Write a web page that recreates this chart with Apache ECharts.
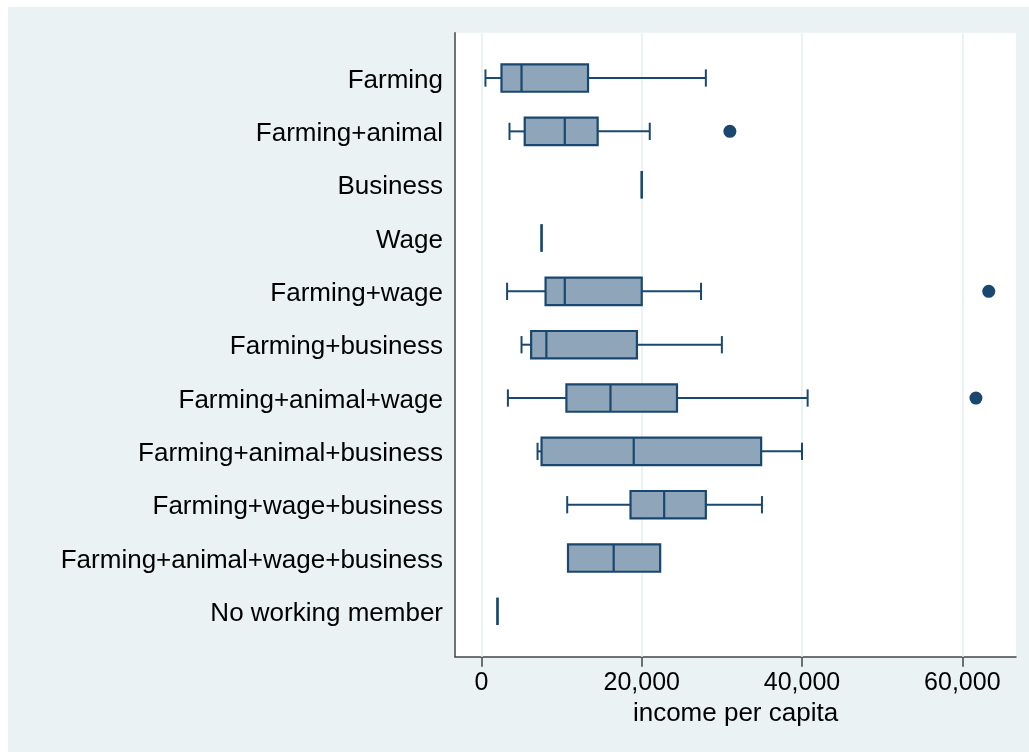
<!DOCTYPE html>
<html>
<head>
<meta charset="utf-8">
<script src="https://cdn.jsdelivr.net/npm/echarts@6/dist/echarts.min.js"></script>
<style>
html,body{margin:0;padding:0;background:#ffffff;}
#c{position:absolute;left:8px;top:7px;width:1021px;height:745px;}
</style>
</head>
<body>
<div id="c"></div>
<script>
const categories = ['Farming','Farming+animal','Business','Wage','Farming+wage','Farming+business','Farming+animal+wage','Farming+animal+business','Farming+wage+business','Farming+animal+wage+business','No working member'];
const lowWhisker  = [500, 3500, 20000, 7500, 3200, 5000, 3300, 7000, 10700, 10800, 2000];
const q1          = [2500, 5400, 20000, 7500, 8000, 6200, 10600, 7500, 18600, 10800, 2000];
const median      = [5000, 10400, 20000, 7500, 10400, 8100, 16100, 19000, 22800, 16500, 2000];
const q3          = [13300, 14500, 20000, 7500, 20000, 19400, 24400, 34900, 28000, 22300, 2000];
const highWhisker = [28000, 21000, 20000, 7500, 27400, 30000, 40700, 40000, 35000, 22300, 2000];
const outlierGroups = ['Farming+animal','Farming+wage','Farming+animal+wage'];
const outlierValues = [31000, 63300, 61700];
const xTickValues = [0, 20000, 40000, 60000];
const xTitle = 'income per capita';

const NAVY = '#1A476F';
const FILL = '#8FA5B9';
const BG = '#EAF2F3';
const FONT = "'Liberation Sans', Arial, Helvetica, sans-serif";

const boxData = categories.map((c, i) => [i, lowWhisker[i], q1[i], median[i], q3[i], highWhisker[i]]);
const outlierData = outlierGroups.map((g, i) => [outlierValues[i], categories.indexOf(g)]);

const chart = echarts.init(document.getElementById('c'));

function renderBox(params, api) {
  const y = api.value(0);
  const unit = api.size([0, 1])[1];
  const bh = unit * 0.257;
  const ch = unit * 0.162;
  const pl = api.coord([api.value(1), y]);
  const p1 = api.coord([api.value(2), y]);
  const pm = api.coord([api.value(3), y]);
  const p3 = api.coord([api.value(4), y]);
  const ph = api.coord([api.value(5), y]);
  const ls = {stroke: NAVY, lineWidth: 2, fill: null};
  const ch_ = [];
  if (api.value(1) < api.value(2)) {
    ch_.push({type:'line', shape:{x1:pl[0], y1:pl[1], x2:p1[0], y2:p1[1]}, style:ls});
    ch_.push({type:'line', shape:{x1:pl[0], y1:pl[1]-ch, x2:pl[0], y2:pl[1]+ch}, style:ls});
  }
  if (api.value(5) > api.value(4)) {
    ch_.push({type:'line', shape:{x1:p3[0], y1:p3[1], x2:ph[0], y2:ph[1]}, style:ls});
    ch_.push({type:'line', shape:{x1:ph[0], y1:ph[1]-ch, x2:ph[0], y2:ph[1]+ch}, style:ls});
  }
  ch_.push({type:'rect', shape:{x:p1[0], y:p1[1]-bh, width:p3[0]-p1[0], height:2*bh},
            style:{fill:FILL, stroke:NAVY, lineWidth:2.2}});
  ch_.push({type:'line', shape:{x1:pm[0], y1:pm[1]-bh, x2:pm[0], y2:pm[1]+bh}, style:{stroke:NAVY, lineWidth:2.2}});
  return {type:'group', children:ch_};
}

chart.setOption({
  backgroundColor: BG,
  animation: false,
  textStyle: {fontFamily: FONT},
  grid: {left: 447, right: 13, top: 25.7, bottom: 95.3, show: true, backgroundColor: '#ffffff', borderWidth: 0, containLabel: false, outerBoundsMode: 'none'},
  xAxis: {
    type: 'value', min: -3300, max: 66700,
    name: xTitle, nameLocation: 'middle', nameGap: 39,
    nameTextStyle: {color: '#000', fontSize: 26, fontFamily: FONT},
    axisLine: {show: true, onZero: false, lineStyle: {color: '#444', width: 1.5}},
    axisTick: {show: true, length: 10, customValues: xTickValues, lineStyle: {color: '#444', width: 1.5}},
    axisLabel: {show: true, customValues: xTickValues, margin: 14, color: '#000', fontSize: 25, fontFamily: FONT,
                formatter: v => Number(v).toLocaleString('en-US')},
    splitLine: {show: false}
  },
  yAxis: {
    type: 'value', inverse: true, min: -0.85, max: 10.85,
    axisLine: {show: true, onZero: false, lineStyle: {color: '#444', width: 1.5}},
    axisTick: {show: false},
    axisLabel: {show: true, customValues: categories.map((c, i) => i), margin: 12, color: '#000', fontSize: 26, fontFamily: FONT,
                formatter: v => '{c|' + categories[Math.round(v)] + '}',
                rich: {c: {fontSize: 26, fontFamily: FONT, color: '#000', padding: [5, 0, 0, 0]}}},
    splitLine: {show: false}
  },
  series: [
    {
      type: 'scatter', data: [], z: 1, silent: true,
      markLine: {silent: true, symbol: 'none', animation: false, z: 1,
        label: {show: false},
        lineStyle: {color: BG, width: 2, type: 'solid'},
        emphasis: {disabled: true},
        data: xTickValues.map(v => ({xAxis: v}))}
    },
    {
      type: 'custom', z: 2, silent: true,
      renderItem: renderBox,
      encode: {x: [1, 2, 3, 4, 5], y: 0},
      data: boxData
    },
    {
      type: 'scatter', z: 3, silent: true,
      symbol: 'circle', symbolSize: 13,
      itemStyle: {color: NAVY, opacity: 1},
      data: outlierData
    }
  ]
});
</script>
</body>
</html>
